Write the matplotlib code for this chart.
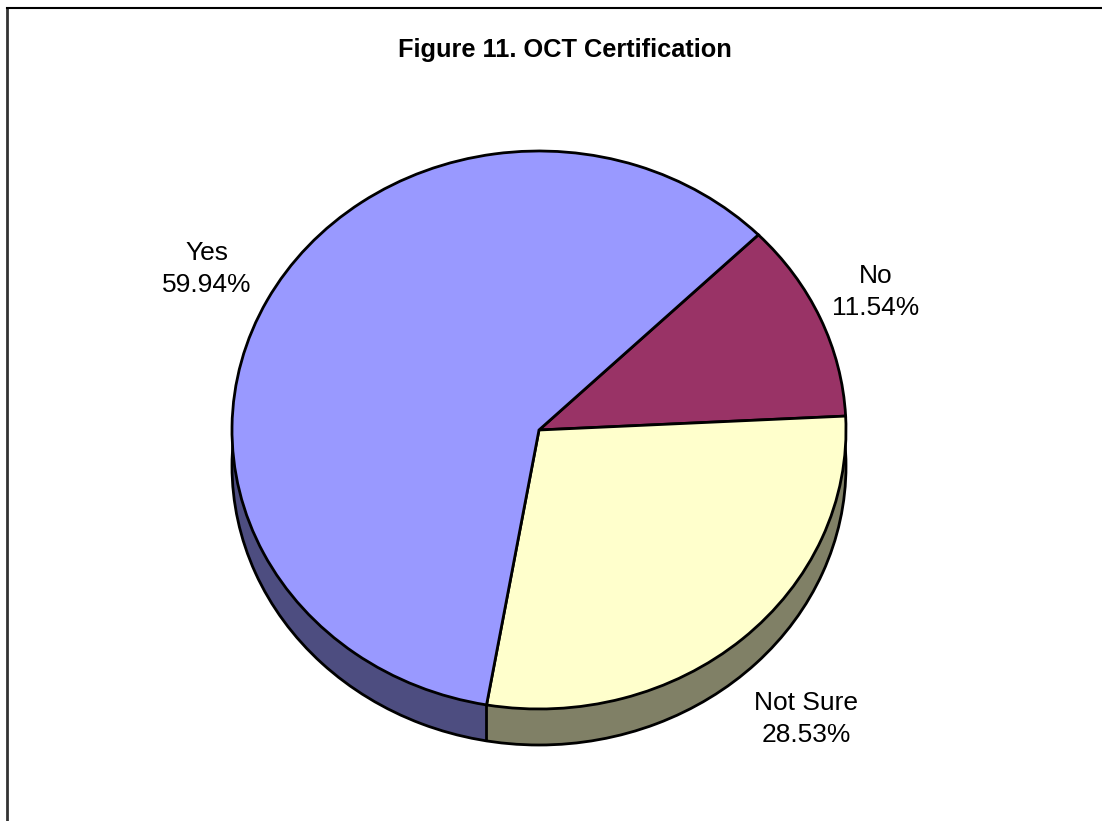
import matplotlib
matplotlib.use('Agg')
import matplotlib.pyplot as plt
from matplotlib.lines import Line2D

labels = ['No', 'Not Sure', 'Yes']
values = [11.54, 28.53, 59.94]
colors = ['#993366', '#FFFFCC', '#9999FF']
wall_colors = ['#4D1A33', '#808066', '#4D4D80']

W, H = 1102, 821
cx, cy = 539, 430
rx, ry = 307, 279
depth = 36 / ry

plt.rcParams['font.family'] = ['Liberation Sans', 'DejaVu Sans']

fig = plt.figure(figsize=(W / 100, H / 100), dpi=100)
ax = fig.add_axes([0, 0, 1, 1])

# side wall: stacked copies of the pie going down
n = 36
for i in range(n, 0, -1):
    ax.pie(values, colors=wall_colors, startangle=44.4, counterclock=False,
           center=(0, -depth * i / n), radius=1,
           wedgeprops=dict(linewidth=0))
# outline of the wall, seam of the wedge points up so the top pie hides it
ax.pie([1], colors=['none'], startangle=90, center=(0, -depth), radius=1,
       wedgeprops=dict(linewidth=2, edgecolor='black'))
ax.pie(values, colors=colors, startangle=44.4, counterclock=False,
       radius=1, wedgeprops=dict(linewidth=2, edgecolor='black'))

ax.set_aspect('auto')
ax.set_xlim(-cx / rx, (W - cx) / rx)
ax.set_ylim((cy - H) / ry, cy / ry)
ax.axis('off')

# seam between the two visible wall parts
fig.add_artist(Line2D([485.5 / W, 485.5 / W], [1 - 705 / H, 1 - 740 / H], color='black', lw=2))

# chart frame
fig.add_artist(Line2D([6.5 / W, 6.5 / W], [0, 1 - 8.5 / H], color='#333333', lw=2))
fig.add_artist(Line2D([6.5 / W, 1], [1 - 8.5 / H, 1 - 8.5 / H], color='black', lw=1.5))

fig.text(564.5 / W, 1 - 50 / H, 'Figure 11. OCT Certification', ha='center', va='center',
         fontsize=18.3, fontweight='bold')
fig.text(207 / W, 1 - 269 / H, 'Yes\n59.94%', ha='center', va='center', fontsize=19, linespacing=1.42)
fig.text(876 / W, 1 - 292 / H, 'No\n11.54%', ha='center', va='center', fontsize=19, linespacing=1.42)
fig.text(806 / W, 1 - 719 / H, 'Not Sure\n28.53%', ha='center', va='center', fontsize=19, linespacing=1.42)

fig.savefig('out.png', dpi=100)
